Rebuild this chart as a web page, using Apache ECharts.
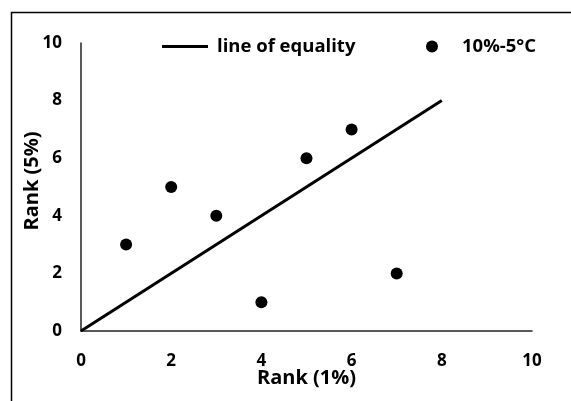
<!DOCTYPE html>
<html><head><meta charset="utf-8">
<script src="https://cdn.jsdelivr.net/npm/echarts@6/dist/echarts.min.js"></script>
<style>html,body{margin:0;padding:0;background:#fff}#c{width:571px;height:401px}</style>
</head><body><div id="c"></div>
<script>
const equalityLine = [[0, 0], [8, 8]];
const scatterPoints = [[1, 3], [2, 5], [3, 4], [4, 1], [5, 6], [6, 7], [7, 2]];
const lineName = 'line of equality';
const scatterName = '10%-5°C';
const xTitle = 'Rank (1%)';
const yTitle = 'Rank (5%)';
const font = '"Open Sans", "Noto Sans", sans-serif';

const chart = echarts.init(document.getElementById('c'), null, {renderer: 'canvas'});
chart.setOption({
  animation: false,
  backgroundColor: '#fff',
  graphic: [{
    type: 'rect', left: 9, top: 10, shape: {width: 620, height: 460},
    style: {fill: 'none', stroke: '#000', lineWidth: 1.5}, silent: true
  }],
  grid: {left: 81, right: 39, top: 43, bottom: 70},
  legend: [{
    data: [{name: lineName, icon: 'rect'}], left: 157, top: 32, itemWidth: 46, itemHeight: 3, itemGap: 0,
    itemStyle: {color: '#000'},
    textStyle: {fontFamily: font, fontWeight: 'bold', fontSize: 18.5, color: '#000', padding: [0, 0, 0, 4]}
  }, {
    data: [{name: scatterName, icon: 'circle'}], left: 421, top: 32, itemWidth: 12, itemHeight: 12,
    itemStyle: {color: '#000', opacity: 1},
    textStyle: {fontFamily: font, fontWeight: 'bold', fontSize: 18.5, color: '#000', padding: [0, 0, 0, 19]}
  }],
  xAxis: {
    type: 'value', min: 0, max: 10, interval: 2,
    name: xTitle, nameLocation: 'middle', nameGap: 37, nameMoveOverlap: false,
    nameTextStyle: {fontFamily: font, fontWeight: 'bold', fontSize: 20, color: '#000'},
    axisLine: {show: true, lineStyle: {color: '#222', width: 1.5}},
    axisTick: {show: false}, splitLine: {show: false},
    axisLabel: {margin: 22, fontFamily: font, fontWeight: 'bold', fontSize: 17, color: '#000'}
  },
  yAxis: {
    type: 'value', min: 0, max: 10, interval: 2,
    name: yTitle, nameLocation: 'middle', nameGap: 39, nameMoveOverlap: false,
    nameTextStyle: {fontFamily: font, fontWeight: 'bold', fontSize: 20, color: '#000', padding: [0, 0, 0, 12]},
    axisLine: {show: true, lineStyle: {color: '#222', width: 1.5}},
    axisTick: {show: false}, splitLine: {show: false},
    axisLabel: {margin: 19, fontFamily: font, fontWeight: 'bold', fontSize: 17, color: '#000'}
  },
  series: [{
    name: lineName, type: 'line', data: equalityLine, showSymbol: false, symbol: 'none',
    lineStyle: {color: '#000', width: 3}, itemStyle: {color: '#000'}
  }, {
    name: scatterName, type: 'scatter', data: scatterPoints, symbol: 'circle', symbolSize: 12,
    itemStyle: {color: '#000', opacity: 1}
  }]
});
</script></body></html>
